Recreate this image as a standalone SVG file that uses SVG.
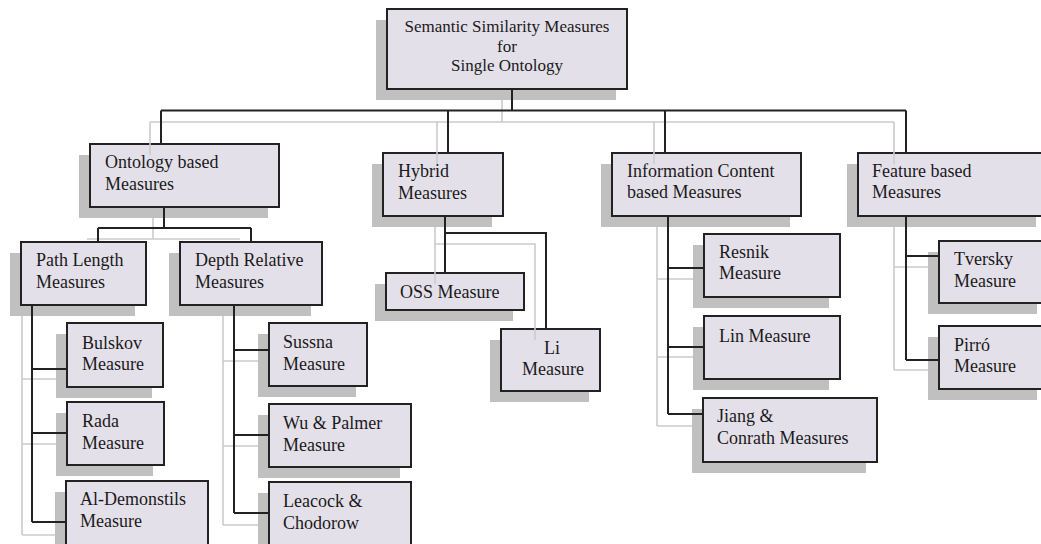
<svg xmlns="http://www.w3.org/2000/svg" width="1041" height="544" viewBox="0 0 1041 544">
<style>
.sh{fill:#c0c0c0;stroke:none}
.bx{fill:#e4e0ea;stroke:#222;stroke-width:2}
text{font-family:'Liberation Serif','Times New Roman','DejaVu Serif',serif;fill:#1a1a1a}
.t{font-size:18px}
.tt{font-size:17px;text-anchor:middle}
.k{fill:none;stroke:#222;stroke-width:2}
.g{fill:none;stroke:#cbcbcb;stroke-width:1.6}
</style>
<rect width="1041" height="544" fill="#fff"/>
<g id="n-top"><rect class="sh" x="376" y="20" width="240" height="80"/><rect class="bx" x="387" y="9" width="240" height="80"/><text class="tt" x="507" y="32">Semantic Similarity Measures</text><text class="tt" x="507" y="52">for</text><text class="tt" x="507" y="71">Single Ontology</text></g>
<g id="n-ontology"><rect class="sh" x="79" y="155" width="189" height="63"/><rect class="bx" x="90" y="144" width="189" height="63"/><text class="t" x="105" y="168">Ontology based</text><text class="t" x="105" y="190">Measures</text></g>
<g id="n-path"><rect class="sh" x="10" y="253" width="125" height="63"/><rect class="bx" x="21" y="242" width="125" height="63"/><text class="t" x="36" y="266">Path Length</text><text class="t" x="36" y="288">Measures</text></g>
<g id="n-depth"><rect class="sh" x="169" y="253" width="142" height="63"/><rect class="bx" x="180" y="242" width="142" height="63"/><text class="t" x="195" y="266">Depth Relative</text><text class="t" x="195" y="288">Measures</text></g>
<g id="n-bulskov"><rect class="sh" x="56" y="334" width="96" height="64"/><rect class="bx" x="67" y="323" width="96" height="64"/><text class="t" x="82" y="349">Bulskov</text><text class="t" x="82" y="370">Measure</text></g>
<g id="n-rada"><rect class="sh" x="56" y="413" width="97" height="63"/><rect class="bx" x="67" y="402" width="97" height="63"/><text class="t" x="82" y="427">Rada</text><text class="t" x="82" y="449">Measure</text></g>
<g id="n-aldem"><rect class="sh" x="55" y="492" width="142" height="64"/><rect class="bx" x="66" y="481" width="142" height="64"/><text class="t" x="80" y="505">Al-Demonstils</text><text class="t" x="80" y="527">Measure</text></g>
<g id="n-sussna"><rect class="sh" x="258" y="334" width="98" height="63"/><rect class="bx" x="269" y="323" width="98" height="63"/><text class="t" x="283" y="348">Sussna</text><text class="t" x="283" y="370">Measure</text></g>
<g id="n-wu"><rect class="sh" x="258" y="415" width="142" height="63"/><rect class="bx" x="269" y="404" width="142" height="63"/><text class="t" x="283" y="429">Wu &amp; Palmer</text><text class="t" x="283" y="451">Measure</text></g>
<g id="n-leacock"><rect class="sh" x="258" y="493" width="142" height="63"/><rect class="bx" x="269" y="482" width="142" height="63"/><text class="t" x="283" y="507">Leacock &amp;</text><text class="t" x="283" y="529">Chodorow</text></g>
<g id="n-hybrid"><rect class="sh" x="372" y="164" width="120" height="63"/><rect class="bx" x="383" y="153" width="120" height="63"/><text class="t" x="398" y="177">Hybrid</text><text class="t" x="398" y="199">Measures</text></g>
<g id="n-oss"><rect class="sh" x="375" y="284" width="138" height="37"/><rect class="bx" x="386" y="273" width="138" height="37"/><text class="t" x="400" y="298">OSS Measure</text></g>
<g id="n-li"><rect class="sh" x="490" y="340" width="99" height="62"/><rect class="bx" x="501" y="329" width="99" height="62"/><text class="t" x="552" y="354" text-anchor="middle">Li</text><text class="t" x="553" y="375" text-anchor="middle">Measure</text></g>
<g id="n-info"><rect class="sh" x="601" y="164" width="189" height="63"/><rect class="bx" x="612" y="153" width="189" height="63"/><text class="t" x="627" y="177">Information Content</text><text class="t" x="627" y="198">based Measures</text></g>
<g id="n-resnik"><rect class="sh" x="693" y="245" width="136" height="63"/><rect class="bx" x="704" y="234" width="136" height="63"/><text class="t" x="719" y="258">Resnik</text><text class="t" x="719" y="279">Measure</text></g>
<g id="n-lin"><rect class="sh" x="693" y="327" width="136" height="63"/><rect class="bx" x="704" y="316" width="136" height="63"/><text class="t" x="719" y="342">Lin Measure</text></g>
<g id="n-jiang"><rect class="sh" x="692" y="409" width="174" height="64"/><rect class="bx" x="703" y="398" width="174" height="64"/><text class="t" x="717" y="422">Jiang &amp;</text><text class="t" x="717" y="444">Conrath Measures</text></g>
<g id="n-feature"><rect class="sh" x="847" y="164" width="189" height="63"/><rect class="bx" x="858" y="153" width="189" height="63"/><text class="t" x="872" y="177">Feature based</text><text class="t" x="872" y="198">Measures</text></g>
<g id="n-tversky"><rect class="sh" x="928" y="252" width="109" height="62"/><rect class="bx" x="939" y="241" width="109" height="62"/><text class="t" x="954" y="265">Tversky</text><text class="t" x="954" y="287">Measure</text></g>
<g id="n-pirro"><rect class="sh" x="928" y="337" width="109" height="63"/><rect class="bx" x="939" y="326" width="109" height="63"/><text class="t" x="954" y="351">Pirró</text><text class="t" x="954" y="372">Measure</text></g>
<g id="connectors">
<path class="g" d="M502 100V122M150 122H894M150 122V155M437 122V164M654 122V164M894 122V164"/>
<path class="g" d="M153 218V239M87 239H240"/>
<path class="g" d="M22 316V535M22 379H56M22 444H56M22 535H55"/>
<path class="g" d="M223 316V525M223 361H258M223 446H258M223 525H258"/>
<path class="g" d="M435 227V284M435 244H535V340"/>
<path class="g" d="M657 227V426M657 279H693M657 357H693M657 426H692"/>
<path class="g" d="M894 227V370M894 267H928M894 370H928"/>
<path class="k" d="M512 89V110.5M161 110.5H906M161 110.5V144M448 110.5V153M665 110.5V153M906 110.5V153"/>
<path class="k" d="M164 207V228M98 228H251M98 228V242M251 228V242"/>
<path class="k" d="M32 305V522M32 369H67M32 433H67M32 522H66"/>
<path class="k" d="M234 305V513M234 350H269M234 435H269M234 513H269"/>
<path class="k" d="M445 216V273M445 233H546V329"/>
<path class="k" d="M668 216V414M668 268H704M668 347H704M668 414H703"/>
<path class="k" d="M906 216V360M906 256H939M906 360H939"/>
</g>
</svg>
